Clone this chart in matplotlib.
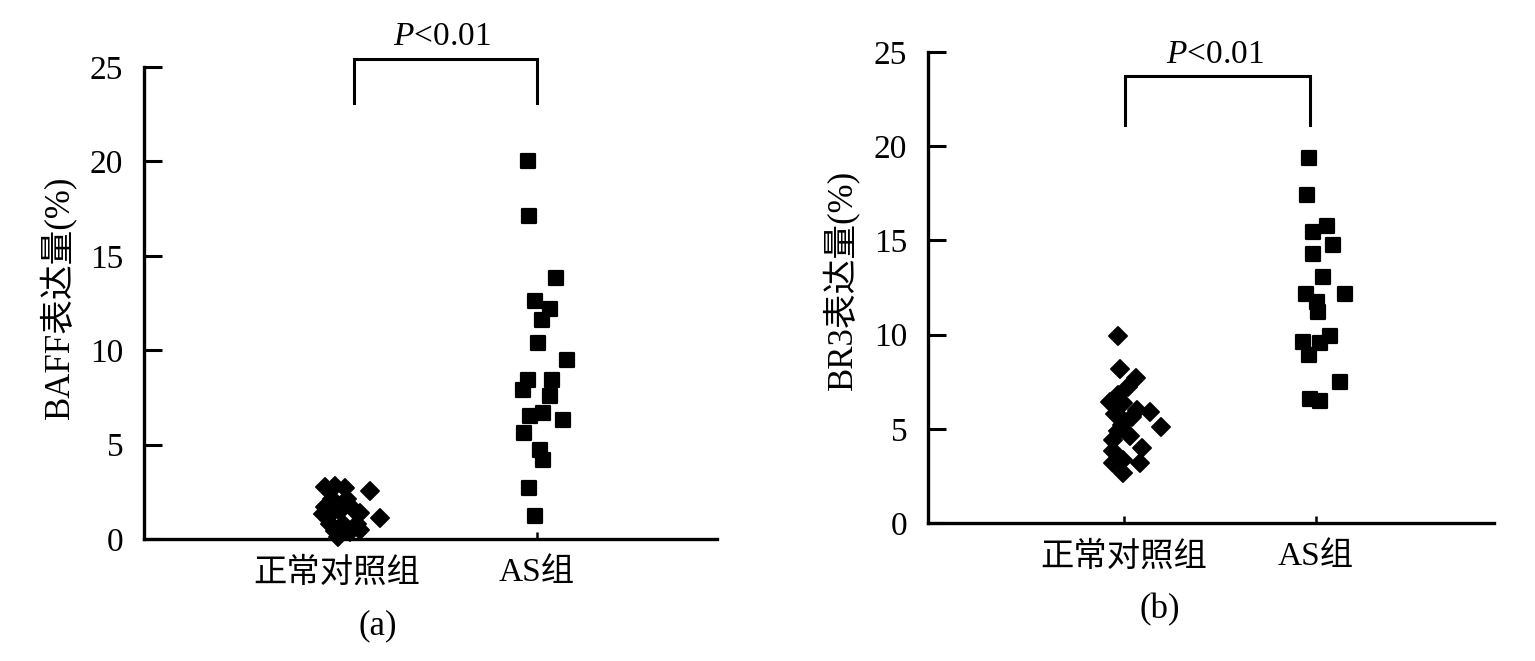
import matplotlib
matplotlib.use("Agg")
import matplotlib.pyplot as plt
from matplotlib.markers import MarkerStyle
import numpy as np

plt.rcParams['font.family'] = ['Liberation Serif', 'Noto Sans CJK SC']
plt.rcParams['mathtext.fontset'] = 'custom'
plt.rcParams['mathtext.rm'] = 'Liberation Serif'
plt.rcParams['mathtext.it'] = 'Liberation Serif:italic'

# ---------------- data ----------------
categories = ['正常对照组', 'AS组']
yticks = [0, 5, 10, 15, 20, 25]

# Panel (a) BAFF
a_ctrl_vals = [2.75, 2.8, 2.7, 2.55, 1.1, 1.7, 1.15, 1.5, 1.6, 1.4, 0.8, 0.8, 0.8,
               0.4, 0.35, 0.5, 2.1, 2.1, 0.1, 1.3]
a_ctrl_jit = [-0.06, -0.01, 0.04, 0.165, 0.215, -0.06, -0.045, 0.015, 0.08, 0.115,
              -0.035, 0.03, 0.10, -0.01, 0.065, 0.115, -0.025, 0.05, 0.005, -0.07]
a_as_vals = [20.0, 17.1, 13.8, 12.6, 12.2, 11.6, 10.4, 9.5, 8.4, 8.4, 7.9, 7.6,
             6.5, 6.7, 6.3, 5.6, 4.7, 4.2, 2.7, 1.2]
a_as_jit = [-0.045, -0.04, 0.095, -0.01, 0.065, 0.025, 0.005, 0.15, -0.045, 0.075,
            -0.07, 0.065, -0.035, 0.03, 0.13, -0.065, 0.015, 0.03, -0.04, -0.01]

# Panel (b) BR3
b_ctrl_vals = [9.93, 8.17, 7.7, 7.2, 6.4, 6.35, 5.8, 5.45, 5.6, 6.0, 5.2, 5.9, 5.1,
               4.4, 4.6, 4.0, 3.8, 3.35, 3.2, 3.2, 2.65, 4.9, 6.8]
b_ctrl_jit = [-0.03, -0.02, 0.06, 0.02, -0.075, -0.005, -0.045, -0.005, 0.04, 0.07,
              -0.01, 0.135, 0.19, -0.06, 0.03, 0.095, -0.06, -0.005, 0.085, -0.055,
              -0.005, -0.03, -0.03]
b_as_vals = [19.4, 17.4, 15.46, 15.76, 14.75, 14.28, 13.07, 12.15, 12.15, 11.75,
             11.2, 9.6, 9.9, 9.55, 8.9, 7.5, 6.6, 6.45]
b_as_jit = [-0.035, -0.045, -0.015, 0.055, 0.09, -0.015, 0.035, -0.05, 0.15, 0.005,
            0.01, -0.07, 0.075, 0.02, -0.035, 0.125, -0.03, 0.02]

panels = [
    dict(ctrl=(a_ctrl_vals, a_ctrl_jit), as_=(a_as_vals, a_as_jit),
         ylabel='BAFF表达量(%)', tag='(a)',
         rect=[144/1535, 1-539/661, 573/1535, 472/661], xlim=(0.035, 2.9),
         br=(1.085, 2.0, 25.45, 23.1), ptxt=(1.525, 26.6),
         ylab=(-0.118, 0.513), tagpos=(378/1535, 1-626/661)),
    dict(ctrl=(b_ctrl_vals, b_ctrl_jit), as_=(b_as_vals, b_as_jit),
         ylabel='BR3表达量(%)', tag='(b)',
         rect=[928/1535, 1-523/661, 566/1535, 471/661], xlim=(-0.021, 2.927),
         br=(1.005, 1.97, 23.7, 21.1), ptxt=(1.474, 24.85),
         ylab=(-0.122, 0.516), tagpos=(1160/1535, 1-610/661)),
]

fig = plt.figure(figsize=(15.35, 6.61), dpi=100)

sq = MarkerStyle('s', joinstyle='round')
dm = MarkerStyle('D', joinstyle='round')

for p in panels:
    ax = fig.add_axes(p['rect'])
    cv, cj = p['ctrl']
    av, aj = p['as_']
    ax.plot(1 + np.array(cj), cv, linestyle='none', marker=dm, ms=8.8,
            mfc='black', mec='black', mew=1.4, clip_on=False)
    ax.plot(2 + np.array(aj), av, linestyle='none', marker=sq, ms=10.2,
            mfc='black', mec='black', mew=1.6, clip_on=False)
    ax.set_xlim(*p['xlim'])
    ax.set_ylim(0, 25)
    ax.set_yticks(yticks)
    ax.set_xticks([1, 2])
    ax.set_xticklabels(categories, fontsize=24)
    ax.tick_params(axis='y', direction='in', length=13, width=2.2, pad=15,
                   labelsize=24)
    ax.tick_params(axis='x', direction='in', length=5, width=1.8, pad=13)
    for s in ['top', 'right']:
        ax.spines[s].set_visible(False)
    for s in ['left', 'bottom']:
        ax.spines[s].set_linewidth(2.4)
    ax.set_ylabel(p['ylabel'], fontsize=25)
    ax.yaxis.set_label_coords(*p['ylab'])
    x0, x1, ytop, ybot = p['br']
    ax.plot([x0, x0, x1, x1], [ybot, ytop, ytop, ybot], color='black', lw=2.2,
            clip_on=False, solid_joinstyle='miter')
    ax.text(p['ptxt'][0], p['ptxt'][1], r'$\mathit{P}$<0.01', ha='center',
            va='center', fontsize=24, clip_on=False)
    fig.text(p['tagpos'][0], p['tagpos'][1], p['tag'], ha='center', va='center',
             fontsize=25)

fig.savefig('out.png', dpi=100)
